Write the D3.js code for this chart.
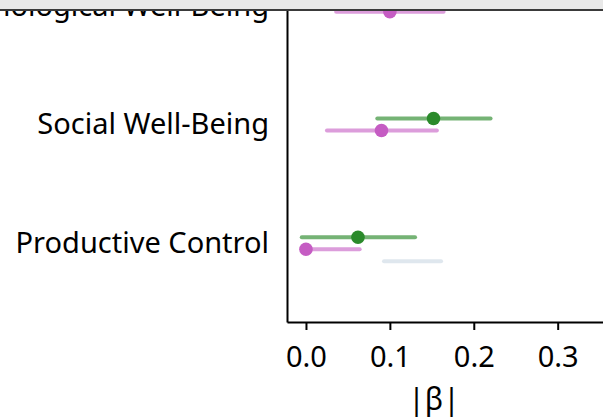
<!DOCTYPE html>
<html>
<head>
<meta charset="utf-8">
<script src="https://cdn.jsdelivr.net/npm/d3@7"></script>
<style>
  html, body { margin: 0; padding: 0; background: #fff; }
  svg { display: block; }
</style>
</head>
<body>
<svg id="chart" width="603" height="419"></svg>
<script>
// ---- data ----
const categories = ["Psychological Well-Being", "Social Well-Being", "Productive Control"];
const seriesNames = ["Model A", "Model B", "Model C"];
// estimates (null = not shown)
const estA = [null, 0.152, 0.062];
const lowA = [null, 0.085, -0.005];
const highA = [null, 0.220, 0.130];
const estB = [0.100, 0.090, 0.000];
const lowB = [0.036, 0.025, 0.000];
const highB = [0.164, 0.156, 0.064];
const estC = [null, null, null];
const lowC = [null, null, 0.093];
const highC = [null, null, 0.161];
const xTicks = [0.0, 0.1, 0.2, 0.3];
const xTitle = "|\u03b2|";

// ---- styles ----
const pointColor = {"Model A": "#2b8a2b", "Model B": "#c55cc3", "Model C": "#dfe7ee"};
const lineColor = {"Model A": "rgba(43,138,43,0.65)", "Model B": "rgba(197,92,195,0.6)", "Model C": "#dfe7ee"};

const svg = d3.select("#chart");
const font = "'Noto Sans', sans-serif";

const x = d3.scaleLinear().domain([-0.0226, 0.3826]).range([287, 627]);
const y = d3.scalePoint().domain(categories).range([-73, 322]).padding(0.664);
const off = d3.scalePoint().domain(seriesNames).range([-6, 18]);

const rows = [];
const sets = {"Model A": [estA, lowA, highA], "Model B": [estB, lowB, highB], "Model C": [estC, lowC, highC]};
seriesNames.forEach(s => {
  const [e, l, h] = sets[s];
  categories.forEach((c, i) => rows.push({series: s, cat: c, est: e[i], lo: l[i], hi: h[i]}));
});

const g = svg.append("g");
g.selectAll("line.ci").data(rows.filter(d => d.lo != null)).join("line")
  .attr("class", "ci")
  .attr("x1", d => x(d.lo)).attr("x2", d => x(d.hi))
  .attr("y1", d => y(d.cat) + off(d.series)).attr("y2", d => y(d.cat) + off(d.series))
  .attr("stroke", d => lineColor[d.series])
  .attr("stroke-width", 4)
  .attr("stroke-linecap", "round");
g.selectAll("circle.pt").data(rows.filter(d => d.est != null)).join("circle")
  .attr("class", "pt")
  .attr("cx", d => x(d.est))
  .attr("cy", d => y(d.cat) + off(d.series))
  .attr("r", 6.8)
  .attr("fill", d => pointColor[d.series]);

// axes
const xAxis = svg.append("g").attr("transform", "translate(0,322)")
  .call(d3.axisBottom(x).tickValues(xTicks).tickFormat(d3.format(".1f")).tickSize(8).tickSizeOuter(0).tickPadding(16));
xAxis.select(".domain").attr("stroke", "#000").attr("stroke-width", 2);
xAxis.selectAll(".tick line").attr("stroke", "#000").attr("stroke-width", 2);
xAxis.selectAll(".tick text").attr("font-family", font).attr("font-size", 29).attr("fill", "#000");

const yAxis = svg.append("g").attr("transform", "translate(287,0)")
  .call(d3.axisLeft(y).tickSize(0).tickPadding(18));
yAxis.select(".domain").attr("stroke", "#000").attr("stroke-width", 2);
yAxis.selectAll(".tick text").attr("font-family", font).attr("font-size", 29).attr("fill", "#000");

svg.append("text")
  .attr("x", 434).attr("y", 410)
  .attr("text-anchor", "middle")
  .attr("font-family", font).attr("font-size", 30)
  .attr("fill", "#000")
  .text(xTitle);

// top overlay band
svg.append("rect").attr("x", 0).attr("y", 0).attr("width", 603).attr("height", 9).attr("fill", "#e8e8e8");
svg.append("line").attr("x1", 0).attr("x2", 603).attr("y1", 10).attr("y2", 10).attr("stroke", "#3a3a3a").attr("stroke-width", 2);
</script>
</body>
</html>
